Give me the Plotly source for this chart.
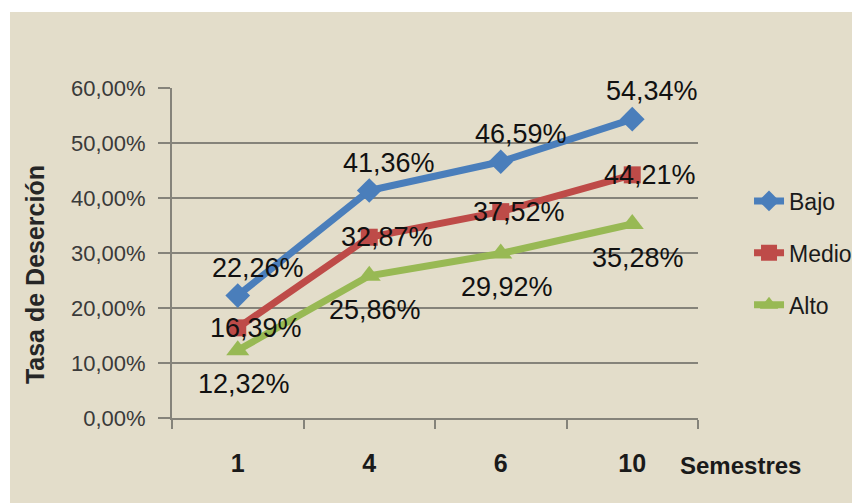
import plotly.graph_objects as go

# ---- data ----
semestres = ["1", "4", "6", "10"]
bajo = [22.26, 41.36, 46.59, 54.34]
medio = [16.39, 32.87, 37.52, 44.21]
alto = [12.32, 25.86, 29.92, 35.28]
y_ticks = [0, 10, 20, 30, 40, 50, 60]

def pct(v):
    return f"{v:.2f}".replace(".", ",") + "%"

BG = "#e3ddca"
GRID = "#85837a"
FONT = "Liberation Sans, Arial, sans-serif"

series = [
    dict(name="Bajo", y=bajo, color="#4a7ebb", symbol="diamond", size=19, dx=20, dy=28),
    dict(name="Medio", y=medio, color="#be4b48", symbol="square", size=17, dx=18, dy=0),
    dict(name="Alto", y=alto, color="#98b954", symbol="triangle-up", size=20, dx=6, dy=-34),
]

fig = go.Figure()
for s in series:
    fig.add_trace(go.Scatter(
        x=semestres, y=s["y"], name=s["name"], mode="lines+markers",
        line=dict(color=s["color"], width=7),
        marker=dict(symbol=s["symbol"], size=s["size"], color=s["color"]),
        legendgroup=s["name"],
    ))

annotations = []
for s in series:
    for i, v in enumerate(s["y"]):
        annotations.append(dict(
            x=i, y=v, xref="x", yref="y", text=pct(v), showarrow=False,
            xshift=s["dx"], yshift=s["dy"],
            font=dict(family=FONT, size=27, color="#111111"),
        ))

annotations.append(dict(
    x=1, y=0, xref="paper", yref="paper", text="<b>Semestres</b>", showarrow=False,
    xanchor="left", yanchor="middle", xshift=-20, yshift=-47,
    font=dict(family=FONT, size=24, color="#1a1a1a"),
))
annotations.append(dict(
    x=0, y=0.433, xref="paper", yref="paper", text="<b>Tasa de Deserción</b>", showarrow=False,
    textangle=-90, xanchor="center", yanchor="middle", xshift=-137,
    font=dict(family=FONT, size=25, color="#262626"),
))

fig.update_layout(
    width=852, height=495,
    margin=dict(l=164, r=162, t=80, b=85, autoexpand=False),
    paper_bgcolor="white",
    plot_bgcolor="rgba(0,0,0,0)",
    shapes=[dict(type="rect", xref="paper", yref="paper",
                 x0=-0.308, x1=1.31, y0=-0.26, y1=1.23,
                 fillcolor=BG, line=dict(width=0), layer="below")],
    annotations=annotations,
    showlegend=True,
    legend=dict(
        x=1.097, y=0.50, xanchor="left", yanchor="middle",
        bgcolor="rgba(0,0,0,0)", font=dict(family=FONT, size=23, color="#1a1a1a"),
        traceorder="grouped", tracegroupgap=19, itemwidth=30,
    ),
    xaxis=dict(
        type="category", range=[-0.5, 3.5],
        showline=True, linecolor=GRID, linewidth=2,
        ticks="outside", tickson="boundaries", ticklen=9, tickcolor=GRID, tickwidth=2,
        showgrid=False, ticklabelstandoff=22,
        tickfont=dict(family=FONT, size=25, color="#1a1a1a", weight="bold"),
    ),
    yaxis=dict(
        range=[0, 60], tickvals=y_ticks, ticktext=[pct(v) for v in y_ticks],
        showline=True, linecolor=GRID, linewidth=2,
        ticks="outside", ticklen=12, tickcolor=GRID, tickwidth=2,
        showgrid=True, gridcolor=GRID, gridwidth=2, zeroline=False,
        ticklabelstandoff=8,
        tickfont=dict(family=FONT, size=22, color="#3a3a3a"),
    ),
)

fig.write_html("out.html")
